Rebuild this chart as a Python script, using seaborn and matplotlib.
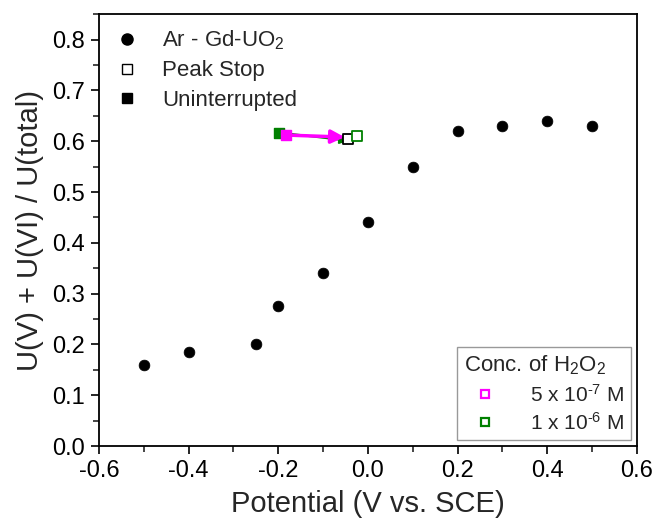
import matplotlib
matplotlib.use("Agg")
import matplotlib.pyplot as plt
import seaborn as sns
import pandas as pd
from matplotlib.lines import Line2D
from matplotlib.ticker import MultipleLocator

sns.set_theme(style="ticks")
plt.rcParams['font.family'] = ['Liberation Sans', 'DejaVu Sans']
plt.rcParams['mathtext.fontset'] = 'custom'
plt.rcParams['mathtext.rm'] = 'Liberation Sans'
plt.rcParams['mathtext.it'] = 'Liberation Sans'

# Data
potential = [-0.5, -0.4, -0.25, -0.2, -0.1, 0.0, 0.1, 0.2, 0.3, 0.4, 0.5]
fraction = [0.16, 0.185, 0.20, 0.275, 0.34, 0.44, 0.55, 0.62, 0.63, 0.64, 0.63]

# H2O2 runs: uninterrupted (filled) and peak stop (open)
conc_labels = ["5 x 10$^{\\text{-}7}$ M", "1 x 10$^{\\text{-}6}$ M"]
conc_colors = ["#ff00ff", "#008000"]
unint_x = [-0.182, -0.198]
unint_y = [0.612, 0.617]
peak_x = [-0.044, -0.024]
peak_y = [0.605, 0.611]
peak_stop_black_x = [-0.044]
peak_stop_black_y = [0.604]

df = pd.DataFrame({"Potential": potential, "Fraction": fraction})

fig = plt.figure(figsize=(6.55, 5.23), dpi=100)
ax = fig.add_axes([0.151, 0.147, 0.8215, 0.826])

sns.scatterplot(data=df, x="Potential", y="Fraction", ax=ax, color="black",
                s=60, edgecolor="black", linewidth=0.5, zorder=3, legend=False)

# arrows (green beneath magenta)
ax.annotate("", xy=(peak_stop_black_x[0], peak_stop_black_y[0] - 0.003),
            xytext=(unint_x[1], unint_y[1]),
            arrowprops=dict(arrowstyle="-|>", color=conc_colors[1], lw=1.5,
                            mutation_scale=12, shrinkA=0, shrinkB=0), zorder=2)
ax.annotate("", xy=(peak_stop_black_x[0] - 0.008, peak_stop_black_y[0] + 0.004),
            xytext=(unint_x[0], unint_y[0]),
            arrowprops=dict(arrowstyle="-|>", color=conc_colors[0], lw=2.5,
                            mutation_scale=20, shrinkA=0, shrinkB=0), zorder=4)

# filled squares (uninterrupted)
ax.scatter([unint_x[1]], [unint_y[1]], marker="s", s=45, color=conc_colors[1], zorder=3)
ax.scatter([unint_x[0]], [unint_y[0]], marker="s", s=45, color=conc_colors[0], zorder=5)
# open squares (peak stop)
ax.scatter(peak_stop_black_x, peak_stop_black_y, marker="s", s=45, facecolor="white",
           edgecolor="black", linewidth=1.3, zorder=5)
ax.scatter([peak_x[1]], [peak_y[1]], marker="s", s=45, facecolor="white",
           edgecolor=conc_colors[1], linewidth=1.3, zorder=5)

ax.set_xlim(-0.6, 0.6)
ax.set_ylim(0.0, 0.85)
ax.xaxis.set_minor_locator(MultipleLocator(0.1))
ax.yaxis.set_minor_locator(MultipleLocator(0.05))
ax.set_yticks([round(0.1 * i, 1) for i in range(9)])
ax.set_xticks([-0.6, -0.4, -0.2, 0.0, 0.2, 0.4, 0.6])
ax.set_xticklabels(["-0.6", "-0.4", "-0.2", "0.0", "0.2", "0.4", "0.6"])
ax.tick_params(which="major", direction="out", length=6, width=1.2, labelsize=17,
               colors="black", pad=4)
ax.tick_params(which="minor", direction="out", length=4, width=1.2)
for sp in ax.spines.values():
    sp.set_visible(True)
    sp.set_linewidth(1.3)
    sp.set_color("black")

ax.set_xlabel("Potential (V vs. SCE)", fontsize=21, labelpad=6)
ax.set_ylabel("U(V) + U(VI) / U(total)", fontsize=21, labelpad=6)

h1 = [Line2D([], [], marker="o", ls="", color="black", markersize=8),
      Line2D([], [], marker="s", ls="", markerfacecolor="white", markeredgecolor="black", markersize=7),
      Line2D([], [], marker="s", ls="", color="black", markersize=7)]
leg1 = ax.legend(h1, ["Ar - Gd-UO$_2$", "Peak Stop", "Uninterrupted"], loc="upper left",
                 frameon=False, fontsize=16, handletextpad=0.8, labelspacing=0.38,
                 bbox_to_anchor=(-0.01, 1.003), borderaxespad=0.3, handlelength=1.6)
ax.add_artist(leg1)

h2 = [Line2D([], [], marker="s", ls="", markerfacecolor="white", markeredgecolor=c,
             markeredgewidth=1.6, markersize=6) for c in conc_colors]
leg2 = ax.legend(h2, conc_labels, title="Conc. of H$_2$O$_2$", loc="lower right",
                 fontsize=15, title_fontsize=16, frameon=True, fancybox=False,
                 edgecolor="#808080", handletextpad=1.2, borderaxespad=0.3,
                 labelspacing=0.3, borderpad=0.3, alignment="left")
leg2.get_frame().set_linewidth(1.0)

fig.savefig("out.png", dpi=100)
